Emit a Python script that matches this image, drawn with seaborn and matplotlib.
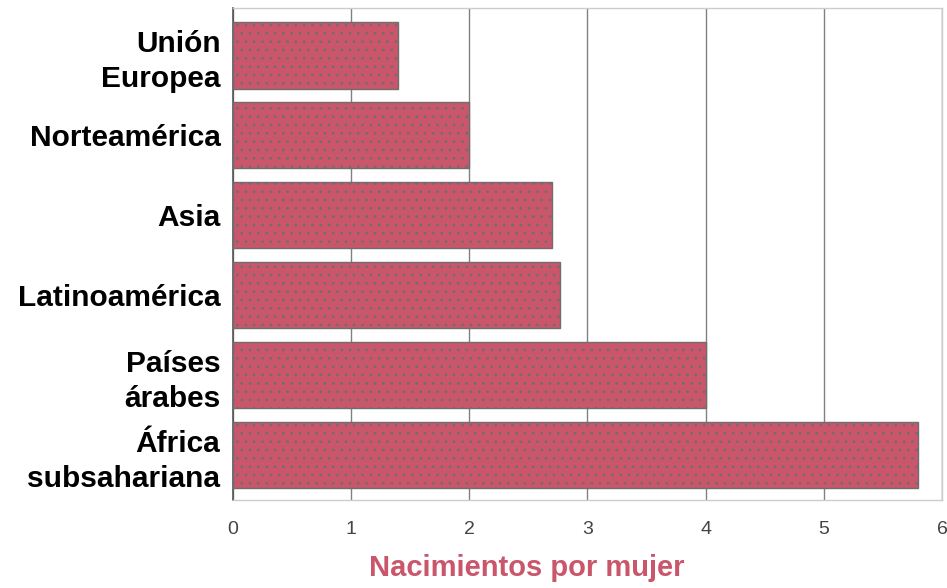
import matplotlib
matplotlib.use("Agg")
import matplotlib.pyplot as plt
import seaborn as sns
import pandas as pd

regions = ["Unión\nEuropea", "Norteamérica", "Asia", "Latinoamérica", "Países\nárabes", "África\nsubsahariana"]
births = [1.4, 2.0, 2.7, 2.77, 4.0, 5.8]
x_ticks = [0, 1, 2, 3, 4, 5, 6]
x_label = "Nacimientos por mujer"

sns.set_style("white")
plt.rcParams["font.family"] = ["Liberation Sans", "DejaVu Sans"]
plt.rcParams["hatch.linewidth"] = 0.7

df = pd.DataFrame({"region": regions, "births": births})

fig = plt.figure(figsize=(9.47, 5.88), dpi=100)
ax = fig.add_axes([0.246, 0.150, 0.7487, 0.836])

sns.barplot(data=df, y="region", x="births", orient="h", color="#C9566A",
            saturation=1, width=0.83, edgecolor="#6e6e6e", linewidth=1.0,
            hatch="..", ax=ax, zorder=3)
for p in ax.patches:
    p.set_edgecolor("#6e6e6e")

ax.set_xlim(0, 6)
ax.set_ylim(5.56, -0.59)
ax.set_xticks(x_ticks)
ax.set_xticklabels([str(t) for t in x_ticks], fontsize=14, color="#444444")
ax.tick_params(axis="x", length=0, pad=15)
ax.tick_params(axis="y", length=0, pad=9)
for lbl in ax.get_yticklabels():
    lbl.set_fontsize(21.5)
    lbl.set_fontweight("bold")
    lbl.set_linespacing(1.3)
    lbl.set_color("black")

ax.xaxis.grid(True, color="#808080", linewidth=1.0, zorder=0)
ax.set_axisbelow(True)
ax.set_xlabel("")
ax.set_ylabel("")
for side in ["top", "right", "bottom"]:
    ax.spines[side].set_color("#cccccc")
    ax.spines[side].set_linewidth(1.0)
ax.spines["left"].set_color("#555555")
ax.spines["left"].set_linewidth(1.2)

fig.text(527 / 947, 1 - 568 / 588, x_label, ha="center", va="center",
         fontsize=21, fontweight="bold", color="#C9566A")

fig.savefig("out.png", dpi=100)
